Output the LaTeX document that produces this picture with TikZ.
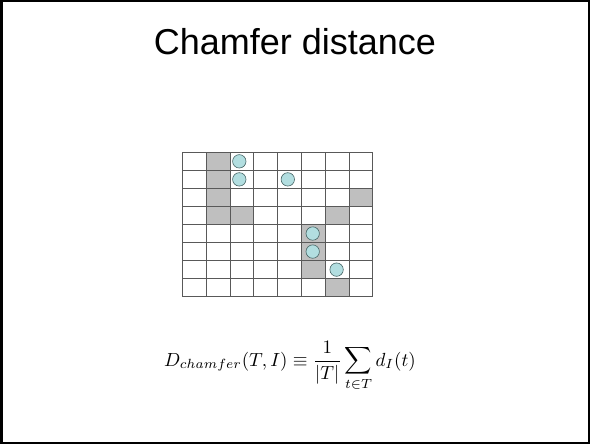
\documentclass[tikz,border=0pt]{standalone}
\usepackage{fontspec}
\usepackage{graphicx}
\setsansfont{Liberation Sans}
\definecolor{dotfill}{RGB}{178,222,224}
\definecolor{dotline}{RGB}{70,100,100}
\begin{document}
\begin{tikzpicture}[x=1pt,y=-1pt,
  cellfill/.style={fill=black!25},
  gridline/.style={draw=black!65,line width=0.7pt},
  dot/.style={draw=dotline,fill=dotfill,line width=0.6pt},
]
\useasboundingbox (0,0) rectangle (590,444);
\fill[white] (0,0) rectangle (590,444);
\draw[line width=2.5pt] (1.25,1.25) rectangle (588.75,442.75);
\node[font=\sffamily\fontsize{36}{40}\selectfont,anchor=base] (title) at (295,54.5) {Chamfer distance};
% grid parameters
\def\gx{182.3}\def\gy{152.3}\def\cw{23.8}\def\ch{18.05}
% gray cells (col,row)
\foreach \c/\r in {1/0,1/1,1/2,1/3,2/3,7/2,6/3,5/4,5/5,5/6,6/7}{
  \fill[cellfill] ({\gx+\c*\cw},{\gy+\r*\ch}) rectangle ++(\cw,\ch);
}
% grid lines
\foreach \i in {0,...,8}{
  \draw[gridline] ({\gx+\i*\cw},\gy) -- ({\gx+\i*\cw},{\gy+8*\ch});
  \draw[gridline] (\gx,{\gy+\i*\ch}) -- ({\gx+8*\cw},{\gy+\i*\ch});
}
% circles (col,row,xoffset)
\foreach \c/\r/\o in {2/0/-2.5,2/1/-2.5,4/1/-1.6,5/4/-0.5,5/5/-0.5,6/6/-0.4}{
  \draw[dot] ({\gx+(\c+0.5)*\cw+\o},{\gy+(\r+0.5)*\ch}) circle (6.7);
}
\node[anchor=base,inner sep=0pt] (formula) at (290,366)
  {\scalebox{1.9}{$\displaystyle D_{chamfer}(T,I) \equiv \frac{1}{|T|}\sum_{t\in T} d_I(t)$}};
\end{tikzpicture}
\end{document}
